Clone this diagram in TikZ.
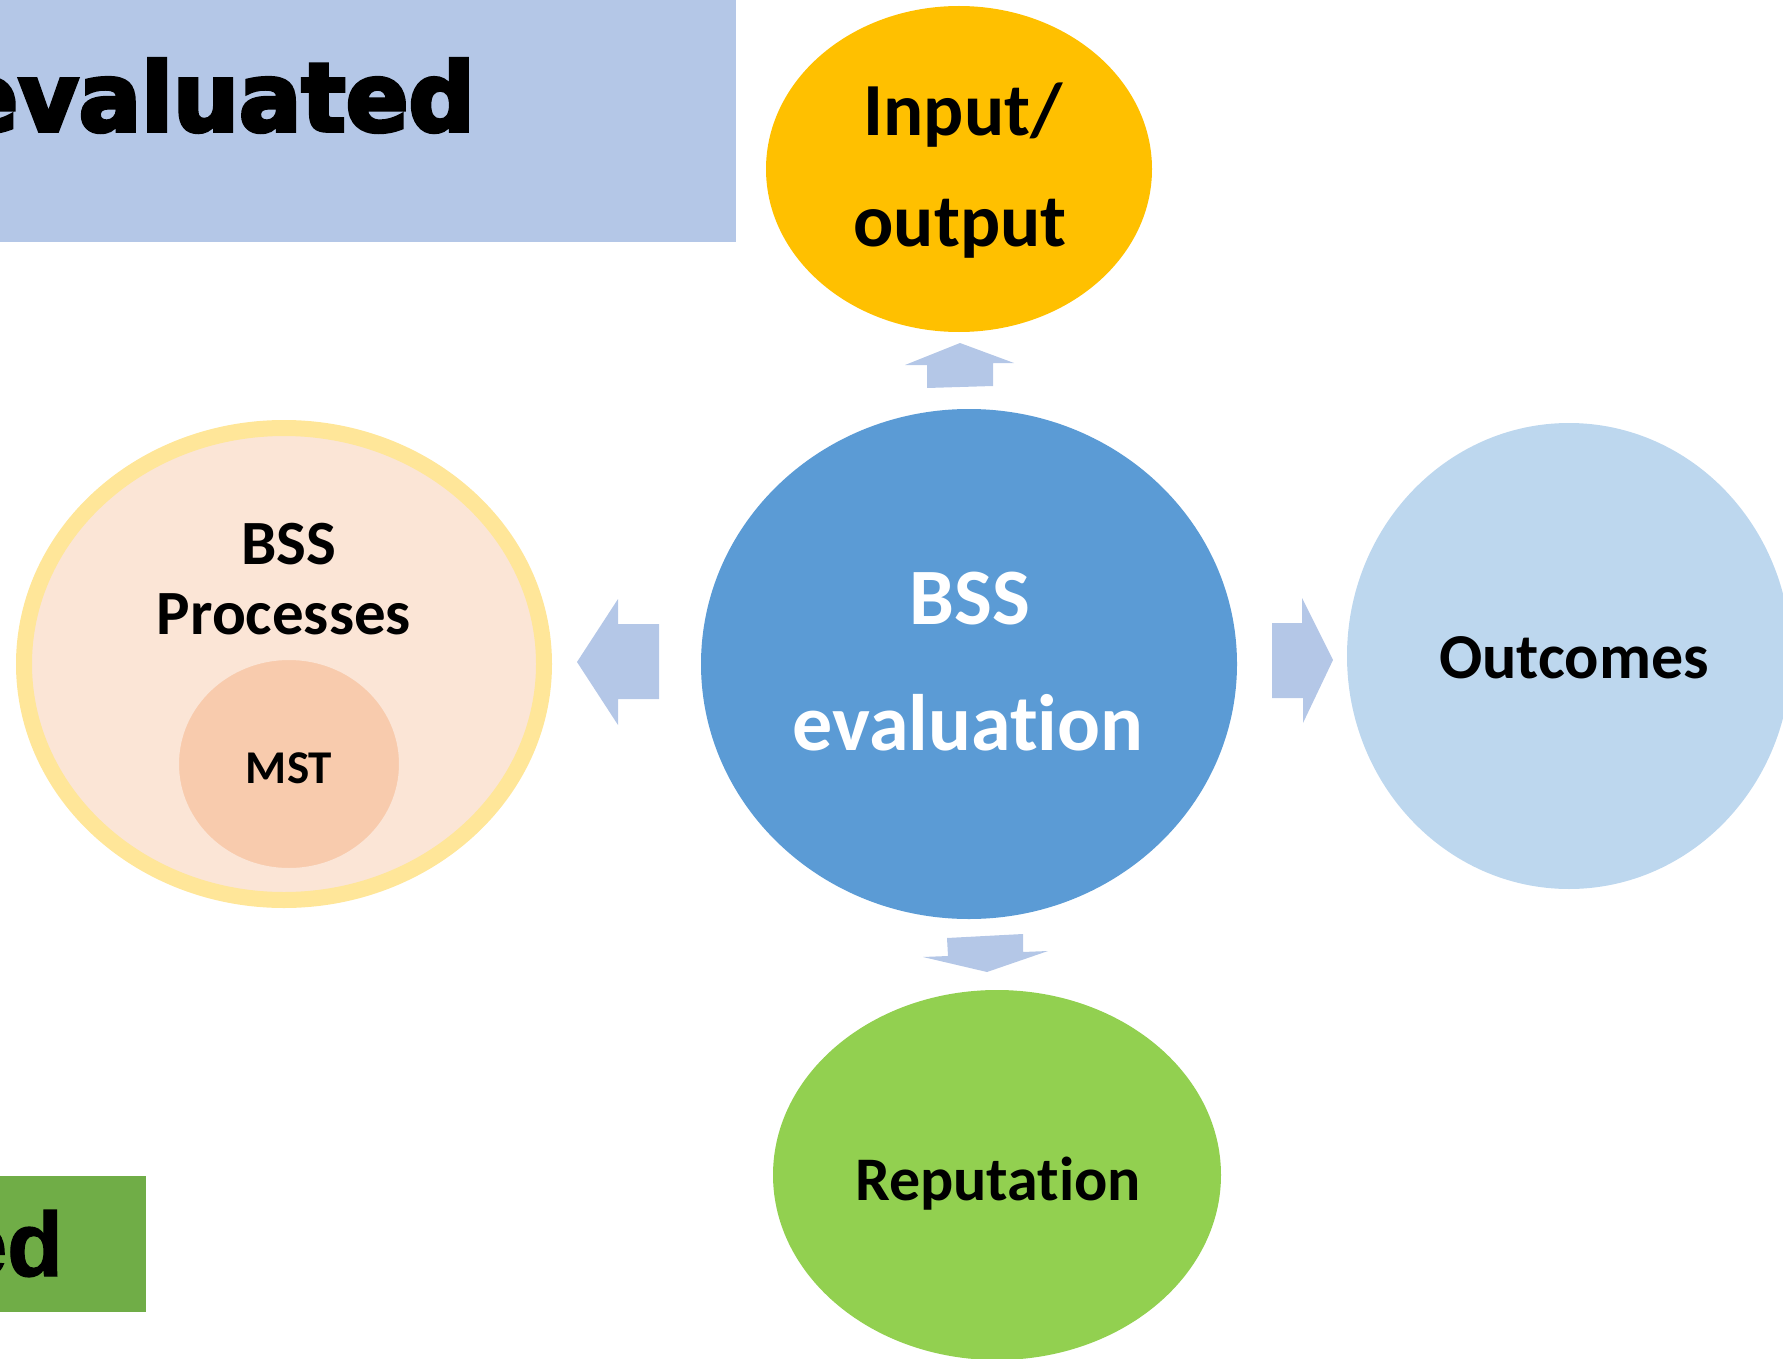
\documentclass[tikz,border=0pt]{standalone}
\usepackage{fontspec}
\usetikzlibrary{shapes.geometric}
\newfontfamily\carlito{Carlito}[Ligatures=NoCommon]
\newfontfamily\heavyfont{DejaVu Sans}[BoldFeatures={FakeBold=4}]
\newfontfamily\arialfont{Liberation Sans}[BoldFeatures={FakeBold=1.5}]
\definecolor{topblue}{HTML}{B4C7E7}
\definecolor{boxgreen}{HTML}{70AD47}
\definecolor{ioorange}{HTML}{FFC000}
\definecolor{evalblue}{HTML}{5B9BD5}
\definecolor{outblue}{HTML}{BDD7EE}
\definecolor{replime}{HTML}{92D050}
\definecolor{procfill}{HTML}{FBE5D6}
\definecolor{procborder}{HTML}{FFE699}
\definecolor{mstfill}{HTML}{F8CBAD}
\definecolor{arrowblue}{HTML}{B4C7E7}
\tikzset{
  blob/.style={ellipse, inner sep=0pt, outer sep=0pt, draw=none},
  lbl/.style={anchor=base, inner sep=0pt, font=\carlito\bfseries},
  blockarrow/.style={fill=arrowblue, draw=none},
}
\begin{document}
\begin{tikzpicture}[x=1pt,y=-1pt]
\useasboundingbox (0,0) rectangle (1783,1359);
\clip (0,0) rectangle (1783,1359);
% banners
\fill[topblue] (0,0) rectangle (736,242);
\node[anchor=base east, inner sep=0pt, font=\heavyfont\bfseries\fontsize{95}{100}\selectfont] (evtitle) at (475,131) {\scalebox{0.975}[1]{evaluated}};
\fill[boxgreen] (0,1176) rectangle (146,1312);
\node[anchor=base east, inner sep=0pt, font=\arialfont\bfseries\fontsize{91}{100}\selectfont] (edtitle) at (63,1276) {ed};
% ellipses
\node[blob, fill=ioorange, minimum width=386pt, minimum height=326pt] (io) at (959,169) {};
\node[blob, fill=evalblue, minimum width=536pt, minimum height=510pt] (eval) at (969,664) {};
\node[blob, fill=outblue, minimum width=444pt, minimum height=466pt] (out) at (1569,656) {};
\node[blob, fill=replime, minimum width=448pt, minimum height=370pt] (rep) at (997,1175) {};
\node[blob, fill=procfill, draw=procborder, line width=16pt, minimum width=520pt, minimum height=472pt] (proc) at (284,664) {};
\node[blob, fill=mstfill, draw=procfill, line width=2pt, minimum width=222pt, minimum height=210pt] (mst) at (289,764) {};
% block arrows
\fill[blockarrow] (960,343) -- (1014,363) -- (993,363) -- (993,386) -- (927,388) -- (927,365) -- (905,365) -- cycle;
\fill[blockarrow] (577,662) -- (618,599) -- (618,624) -- (659,624) -- (659,699) -- (618,699) -- (618,725) -- cycle;
\fill[blockarrow] (1333,660) -- (1302,598) -- (1302,623) -- (1272,623) -- (1272,698) -- (1303,698) -- (1303,723) -- cycle;
\fill[blockarrow] (987,972) -- (1048,951) -- (1023,952) -- (1023,934) -- (947,938) -- (948,956) -- (923,957) -- cycle;
% labels
\node[lbl, font=\carlito\bfseries\fontsize{75}{90}\selectfont] (t1) at (963,136) {Input/};
\node[lbl, font=\carlito\bfseries\fontsize{75}{90}\selectfont] (t2) at (960,247) {output};
\node[lbl, text=white, font=\carlito\bfseries\fontsize{80}{90}\selectfont] (t3) at (970,624) {BSS};
\node[lbl, text=white, font=\carlito\bfseries\fontsize{80}{90}\selectfont] (t4) at (968,750) {evaluation};
\node[lbl, font=\carlito\bfseries\fontsize{63}{70}\selectfont] (t5) at (289,564) {BSS};
\node[lbl, font=\carlito\bfseries\fontsize{63}{70}\selectfont] (t6) at (284,634) {Processes};
\node[lbl, font=\carlito\bfseries\fontsize{47}{55}\selectfont] (t7) at (289,783) {MST};
\node[lbl, font=\carlito\bfseries\fontsize{64}{70}\selectfont] (t8) at (1574,678) {Outcomes};
\node[lbl, font=\carlito\bfseries\fontsize{62}{70}\selectfont] (t9) at (998,1200) {Reputation};
\end{tikzpicture}
\end{document}
